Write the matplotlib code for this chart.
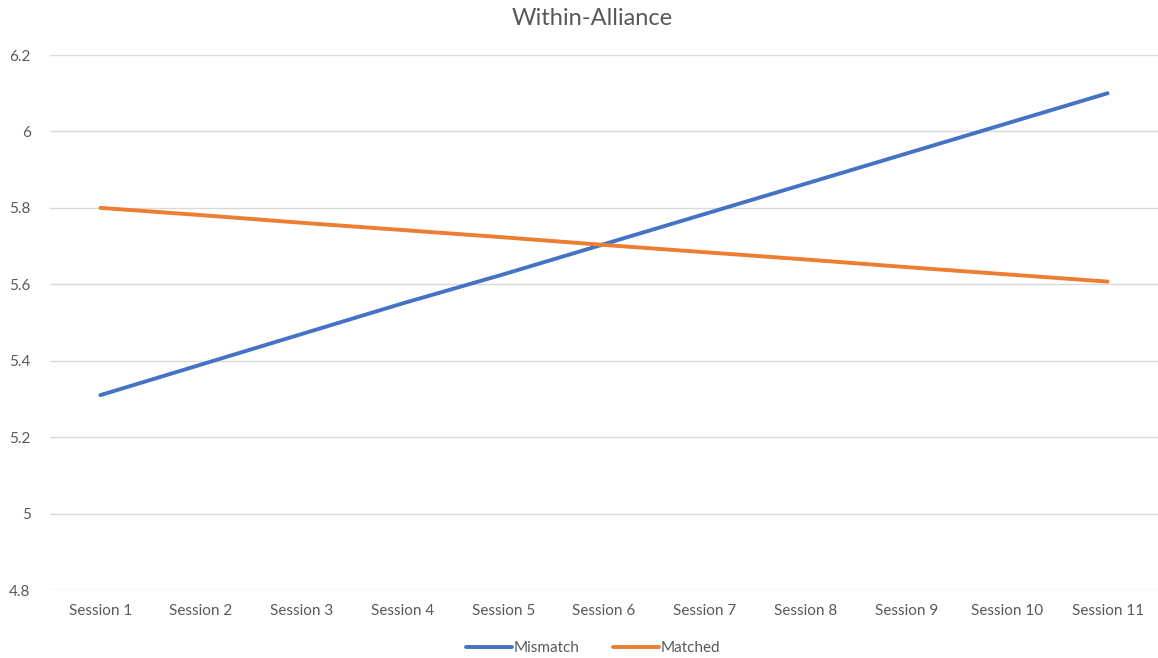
import matplotlib
matplotlib.use("Agg")
import matplotlib.pyplot as plt

plt.rcParams['font.family'] = ['Lato', 'DejaVu Sans']

sessions = ['Session %d' % i for i in range(1, 12)]
mismatch = [5.31, 5.39, 5.47, 5.55, 5.626, 5.705, 5.784, 5.863, 5.942, 6.021, 6.10]
matched = [5.80, 5.781, 5.761, 5.742, 5.723, 5.703, 5.684, 5.665, 5.645, 5.626, 5.607]
yticks = [4.8, 5.0, 5.2, 5.4, 5.6, 5.8, 6.0, 6.2]
ylabels = ['4.8', '5', '5.2', '5.4', '5.6', '5.8', '6', '6.2']

fig = plt.figure(figsize=(11.58, 6.58), dpi=100)
ax = fig.add_axes([0.0432, 0.1033, 0.9568, 0.8131])

x = list(range(len(sessions)))
ax.plot(x, mismatch, color='#4472C4', lw=2.8, label='Mismatch', solid_capstyle='round')
ax.plot(x, matched, color='#ED7D31', lw=2.8, label='Matched', solid_capstyle='round')

ax.set_xlim(-0.5, len(sessions) - 0.5)
ax.set_ylim(4.8, 6.2)
ax.set_yticks(yticks)
ax.set_yticklabels(ylabels)
ax.set_xticks(x)
ax.set_xticklabels(sessions)
ax.grid(axis='y', color='#D9D9D9', lw=1)
ax.set_axisbelow(True)
for s in ax.spines.values():
    s.set_visible(False)
ax.tick_params(length=0, colors='#595959', labelsize=11)
ax.tick_params(axis='x', pad=10)
ax.tick_params(axis='y', pad=14)

fig.suptitle('Within-Alliance', x=0.511, y=0.988, fontsize=17, color='#595959')
fig.legend(loc='center', bbox_to_anchor=(0.512, 0.015), ncol=2, frameon=False,
           fontsize=11, handlelength=3.0, handletextpad=0.1, columnspacing=2.2,
           labelcolor='#595959')

fig.savefig('out.png', dpi=100)
